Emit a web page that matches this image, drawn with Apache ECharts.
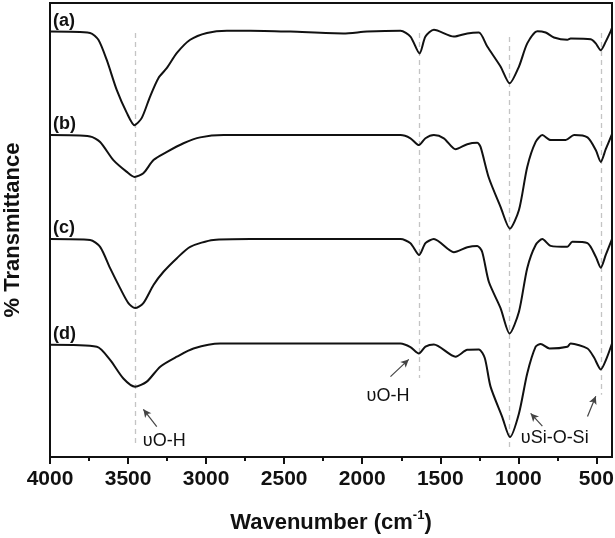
<!DOCTYPE html>
<html>
<head>
<meta charset="utf-8">
<script src="https://cdn.jsdelivr.net/npm/echarts@6/dist/echarts.min.js"></script>
<style>
  html, body { margin: 0; padding: 0; background: #fff; }
  #chart { width: 615px; height: 538px; }
</style>
</head>
<body>
<div id="chart"></div>
<script>
// wavenumber ticks (cm-1), axis runs 4000 -> 400
const xTicks = [4000, 3500, 3000, 2500, 2000, 1500, 1000, 500]
const xMinorTicks = [3750, 3250, 2750, 2250, 1750, 1250, 750]
const sampleNames = ['(a)', '(b)', '(c)', '(d)']

// offset transmittance (a.u.), [wavenumber, value]
const spectrumA = [
  [4000, 93.7], [3743, 93.4], [3690, 91.9], [3636, 87.4], [3572, 80.8], [3508, 75.8],
  [3459, 73.1], [3412, 74.7], [3359, 79.4], [3305, 83.5], [3251, 85.7], [3187, 89.0],
  [3102, 91.9], [2995, 93.4], [2867, 93.9], [2717, 93.9], [2461, 93.7], [2121, 93.3],
  [1969, 93.7], [1755, 93.9], [1691, 92.6], [1633, 88.9], [1595, 92.6], [1541, 94.1],
  [1413, 92.6], [1327, 93.3], [1253, 93.5], [1199, 90.4], [1114, 86.0], [1056, 82.3],
  [996, 86.0], [943, 91.1], [878, 93.8], [825, 93.5], [772, 92.4], [686, 91.9],
  [665, 92.2], [536, 92.0], [504, 91.1], [472, 89.6], [440, 91.5], [408, 93.8], [400, 94.5]
]
const spectrumB = [
  [4000, 70.9], [3743, 70.6], [3679, 69.4], [3594, 65.4], [3508, 62.8], [3459, 61.7],
  [3402, 62.5], [3337, 65.4], [3251, 67.2], [3145, 69.1], [3038, 70.4], [2888, 70.9],
  [2396, 70.9], [1755, 70.9], [1691, 70.2], [1637, 68.7], [1595, 70.2], [1541, 70.9],
  [1477, 70.2], [1402, 67.8], [1327, 68.9], [1263, 69.2], [1242, 68.3], [1189, 61.5],
  [1114, 55.1], [1054, 50.3], [996, 54.4], [943, 63.9], [889, 69.4], [846, 70.9],
  [793, 69.8], [697, 69.8], [643, 70.9], [557, 70.4], [504, 67.6], [472, 65.0],
  [440, 67.8], [400, 71.1]
]
const spectrumC = [
  [4000, 48.0], [3743, 47.8], [3679, 46.3], [3615, 41.6], [3551, 37.2], [3498, 33.9],
  [3455, 32.8], [3402, 33.9], [3337, 37.9], [3273, 40.8], [3187, 43.8], [3102, 46.3],
  [2953, 47.8], [2717, 48.0], [1755, 48.0], [1691, 47.1], [1635, 44.5], [1595, 47.1],
  [1541, 48.0], [1413, 45.1], [1327, 46.2], [1263, 46.5], [1232, 45.2], [1189, 38.6],
  [1114, 32.8], [1056, 27.2], [996, 32.0], [943, 41.6], [889, 46.7], [846, 48.0],
  [793, 46.5], [686, 46.3], [654, 47.4], [557, 47.1], [504, 44.1], [472, 41.7],
  [440, 44.5], [400, 48.0]
]
const spectrumD = [
  [4000, 24.7], [3700, 24.3], [3615, 21.4], [3530, 17.3], [3455, 15.5], [3380, 16.6],
  [3294, 19.9], [3187, 22.1], [3081, 23.9], [2910, 25.0], [1755, 25.0], [1691, 24.2],
  [1637, 22.8], [1595, 24.3], [1541, 24.8], [1402, 22.1], [1327, 23.6], [1253, 23.7],
  [1215, 21.8], [1178, 15.5], [1103, 8.8], [1054, 4.4], [996, 9.6], [943, 18.4],
  [889, 24.3], [857, 24.9], [800, 23.9], [686, 24.3], [665, 25.0], [557, 23.9],
  [515, 21.9], [472, 19.3], [434, 21.8], [400, 25.0]
]
const spectra = [spectrumA, spectrumB, spectrumC, spectrumD]

// band guide lines: [wavenumber, top, bottom]
const peakLines = [[3455, 93.4, 3.1], [1633, 93.4, 17.4], [1055, 92.5, 1.5], [470, 93.4, 13.7]]
// band annotations
const bandLabels = [['υO-H', 3268, 3.5], ['υO-H', 1835, 13.5], ['υSi-O-Si', 767, 4.1]]
const bandArrows = [
  [[3316, 6.7], [3402, 10.5]],
  [[1819, 17.7], [1702, 21.5]],
  [[846, 6.8], [921, 9.6]],
  [[557, 8.9], [504, 13.4]]
]

const font = "'Liberation Sans', Arial, sans-serif"
const chart = echarts.init(document.getElementById('chart'))

const series = spectra.map((data, i) => ({
  name: sampleNames[i],
  type: 'line',
  data,
  smooth: 0.25,
  showSymbol: false,
  z: 3,
  lineStyle: { color: '#111', width: 2 },
  markPoint: {
    silent: true,
    symbol: 'circle',
    symbolSize: 0,
    itemStyle: { color: 'transparent' },
    label: {
      show: true,
      position: [3, -20],
      formatter: sampleNames[i],
      color: '#111',
      fontFamily: font,
      fontWeight: 'bold',
      fontSize: 18
    },
    data: [{ coord: [data[0][0], data[0][1]] }]
  }
}))

// guide lines behind the curves
series[0].markLine = {
  silent: true,
  z: 1,
  symbol: ['none', 'none'],
  label: { show: false },
  lineStyle: { color: '#c4c4c4', width: 1.3, type: [5, 4] },
  data: peakLines.map(([w, top, bottom]) => [{ coord: [w, top] }, { coord: [w, bottom] }])
}

// arrows and band names
series[3].markLine = {
  silent: true,
  z: 5,
  symbol: ['none', 'arrow'],
  symbolSize: [6, 8],
  label: { show: false },
  lineStyle: { color: '#444', width: 1.2, type: 'solid' },
  data: bandArrows.map(([from, to]) => [{ coord: from }, { coord: to }])
}
series[3].markPoint.data = series[3].markPoint.data.concat(
  bandLabels.map(([text, w, v]) => ({
    coord: [w, v],
    label: {
      show: true,
      position: 'inside',
      formatter: text,
      fontWeight: 'normal',
      fontSize: 18,
      color: '#111'
    }
  }))
)

chart.setOption({
  animation: false,
  backgroundColor: '#fff',
  grid: {
    left: 50, right: 3, top: 3, bottom: 81,
    outerBoundsMode: 'none',
    containLabel: false,
    show: true,
    borderColor: '#111',
    borderWidth: 2,
    backgroundColor: 'transparent'
  },
  xAxis: [
    {
      type: 'value',
      min: 400,
      max: 4000,
      inverse: true,
      name: 'Wavenumber (cm{sup|-1})',
      nameLocation: 'middle',
      nameGap: 52,
      nameTextStyle: {
        fontFamily: font, fontWeight: 'bold', fontSize: 22, color: '#111',
        rich: { sup: { fontFamily: font, fontWeight: 'bold', fontSize: 13, padding: [0, 0, 14, 0], color: '#111' } }
      },
      splitLine: { show: false },
      axisLine: { show: true, onZero: false, lineStyle: { color: '#111', width: 2 } },
      axisTick: { show: true, inside: false, length: 7, customValues: xTicks, lineStyle: { color: '#111', width: 2 } },
      axisLabel: {
        customValues: xTicks,
        formatter: (v) => String(v),
        margin: 12,
        color: '#111',
        fontFamily: font,
        fontWeight: 'bold',
        fontSize: 21
      }
    },
    {
      type: 'value',
      min: 400,
      max: 4000,
      inverse: true,
      position: 'bottom',
      splitLine: { show: false },
      axisLine: { show: false },
      axisTick: { show: true, length: 4, customValues: xMinorTicks, lineStyle: { color: '#111', width: 2 } },
      axisLabel: { show: false }
    }
  ],
  yAxis: {
    type: 'value',
    min: 0,
    max: 100,
    name: '% Transmittance',
    nameLocation: 'middle',
    nameGap: 26,
    nameTextStyle: { fontFamily: font, fontWeight: 'bold', fontSize: 22, color: '#111' },
    splitLine: { show: false },
    axisTick: { show: false },
    axisLabel: { show: false },
    axisLine: { show: true, lineStyle: { color: '#111', width: 2 } }
  },
  series
})
</script>
</body>
</html>
